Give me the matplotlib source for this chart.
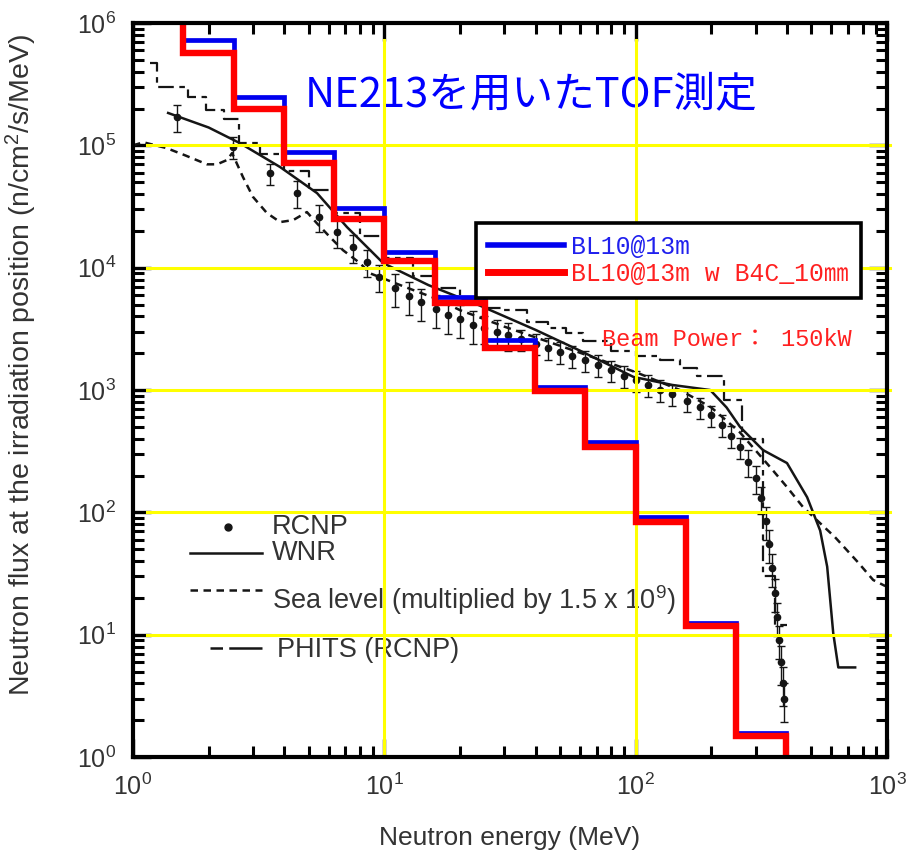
import numpy as np
import matplotlib
matplotlib.use("Agg")
import matplotlib.pyplot as plt
from matplotlib.lines import Line2D
from matplotlib.ticker import LogLocator, NullFormatter

plt.rcParams['font.family'] = ['Liberation Sans', 'Noto Sans CJK JP', 'DejaVu Sans']
plt.rcParams['mathtext.fontset'] = 'custom'
plt.rcParams['mathtext.rm'] = 'Liberation Sans'
plt.rcParams['mathtext.it'] = 'Liberation Sans:italic'

# ---- histogram (NE213 TOF) ----
bin_edges = [1.585, 2.512, 3.981, 6.310, 10.0, 15.85, 25.12, 39.81, 63.10, 100.0, 158.5, 251.2, 398.1]
bl10 = [7.2e5, 2.5e5, 8.8e4, 3.1e4, 1.34e4, 5.75e3, 2.56e3, 1.06e3, 375, 91, 12.4, 1.57]
bl10_b4c = [5.7e5, 2.0e5, 7.2e4, 2.5e4, 1.13e4, 5.1e3, 2.2e3, 980, 341, 83, 11.7, 1.48]

# ---- background figure curves ----
rcnp_e = [1.5, 2.5, 3.5, 4.5, 5.5, 6.5, 7.5, 8.5, 9.5, 11, 12.5, 14, 16, 18, 20, 22.5, 25, 28, 31, 35,
          40, 45, 50, 56, 63, 71, 80, 90, 100, 112, 125, 140, 160, 180, 200, 220, 240, 260, 280, 300,
          315, 330, 340, 350, 358, 365, 372, 378, 384, 390]
rcnp_f = [1.7e5, 9.7e4, 5.9e4, 4.1e4, 2.6e4, 1.95e4, 1.47e4, 1.11e4, 8.4e3, 6.8e3, 5.9e3, 5.2e3, 4.6e3,
          4.1e3, 3.8e3, 3.4e3, 3.2e3, 3.0e3, 2.8e3, 2.6e3, 2.4e3, 2.2e3, 2.05e3, 1.9e3, 1.75e3, 1.6e3,
          1.45e3, 1.3e3, 1.2e3, 1.1e3, 1.0e3, 920, 820, 720, 620, 520, 420, 340, 260, 190,
          130, 85, 55, 35, 22, 14, 9, 6, 4, 3]
rcnp_err = [0.25, 0.2, 0.2, 0.25, 0.25, 0.25, 0.25, 0.25, 0.25, 0.3, 0.3, 0.3, 0.3, 0.3, 0.3, 0.3, 0.25,
            0.25, 0.25, 0.2, 0.2, 0.2, 0.2, 0.2, 0.2, 0.2, 0.2, 0.2, 0.2, 0.2, 0.2, 0.2, 0.2, 0.2, 0.2,
            0.2, 0.2, 0.2, 0.25, 0.25, 0.25, 0.3, 0.3, 0.3, 0.3, 0.3, 0.3, 0.35, 0.35, 0.35]

wnr_e = [1.38, 2.0, 2.67, 3.85, 5.4, 7.1, 9.9, 15, 24, 40, 60, 98, 140, 198, 230, 260, 321, 400, 481,
         542, 578, 611, 640, 747]
wnr_f = [1.84e5, 1.4e5, 1.04e5, 6.65e4, 4.07e4, 2.15e4, 1.09e4, 7.2e3, 4.9e3, 3.1e3, 2.1e3, 1.28e3,
         1.1e3, 1.0e3, 720, 500, 323, 253, 133, 71, 36, 10.3, 5.4, 5.4]

sea_e = [1.0, 1.10, 1.36, 1.61, 1.97, 2.16, 2.37, 2.48, 2.74, 3.0, 3.41, 3.85, 4.34, 4.92, 5.4, 6.08,
         6.85, 8.0, 8.77, 12, 16, 20, 30, 50, 100, 150, 200, 260, 343, 400, 464, 621, 767, 881, 984]
sea_f = [1.0e5, 1.06e5, 9.5e4, 8.3e4, 7.0e4, 7.0e4, 7.6e4, 8.65e4, 5.5e4, 3.8e4, 2.8e4, 2.36e4, 2.45e4,
         2.85e4, 2.3e4, 1.78e4, 1.39e4, 1.09e4, 9.0e3, 7.0e3, 5.6e3, 4.5e3, 3.3e3, 2.3e3, 1.4e3, 1.0e3,
         720, 450, 234, 161, 110, 62.7, 39, 28, 25]

phits_edges = [1.17, 1.25, 1.65, 1.95, 2.3, 2.65, 3.2, 4.0, 5.0, 6.3, 8.0, 10, 13, 16, 20, 25, 30, 37,
               45, 53, 62, 80, 100, 125, 150, 175, 225, 265, 320, 360, 400]
phits_f = [4.7e5, 3.0e5, 2.5e5, 1.95e5, 1.64e5, 1.04e5, 8.5e4, 6.2e4, 4.3e4, 2.8e4, 1.8e4, 1.2e4,
           8.5e3, 6.8e3, 5.5e3, 4.7e3, 4.5e3, 3.6e3, 3.2e3, 2.9e3, 2.5e3, 2.1e3, 1.9e3, 1.75e3, 1.5e3,
           1.3e3, 830, 400, 30, 12]

grid_x = [10, 100]
grid_y = [1e1, 1e2, 1e3, 1e4, 1e5]

fig = plt.figure(figsize=(9.12, 8.63), dpi=100)
ax = fig.add_axes([0.1458, 0.1228, 0.8268, 0.8505])
ax.set_xscale('log')
ax.set_yscale('log')
ax.set_xlim(1, 1000)
ax.set_ylim(1, 1e6)

ink = '#151515'
sea_ls = (0, (3, 2.2))
phits_ls = (0, (7, 2.5, 2.5, 2.5))
# background curves
err = np.array(rcnp_f) * np.array(rcnp_err)
ax.errorbar(rcnp_e, rcnp_f, yerr=err, fmt='o', color=ink, ms=4.5, elinewidth=1.0,
            capsize=3, capthick=1.0, zorder=2)
ax.plot(wnr_e, wnr_f, color=ink, lw=1.8, zorder=2)
ax.plot(sea_e, sea_f, color=ink, lw=1.8, ls=sea_ls, zorder=2)
ax.step(phits_edges, phits_f + [phits_f[-1]], where='post', color=ink, lw=1.6, ls=phits_ls, zorder=2)

# yellow grid
for gx in grid_x:
    ax.axvline(gx, ymin=0, ymax=0.977, color='#ffff00', lw=2.2, zorder=3)
for gy in grid_y:
    ax.axhline(gy, xmin=0.018, xmax=1.004, color='#ffff00', lw=2.2, zorder=3, clip_on=False)


def hist_line(edges, vals, color, lw, z):
    xs = [edges[0]] + list(edges)
    ys = [1e7] + list(vals) + [0.1]
    ax.step(xs, ys, where='post', color=color, lw=lw, zorder=z, solid_joinstyle='miter')


hist_line(bin_edges, bl10, '#0000ee', 3.4, 5)
hist_line(bin_edges, bl10_b4c, '#ff0000', 4.6, 6)

# axes styling
for s in ax.spines.values():
    s.set_linewidth(3)
    s.set_zorder(7)
ax.xaxis.set_major_locator(LogLocator(base=10, numticks=10))
ax.yaxis.set_major_locator(LogLocator(base=10, numticks=10))
ax.xaxis.set_minor_locator(LogLocator(base=10, subs=np.arange(2, 10), numticks=20))
ax.yaxis.set_minor_locator(LogLocator(base=10, subs=np.arange(2, 10), numticks=20))
ax.xaxis.set_minor_formatter(NullFormatter())
ax.yaxis.set_minor_formatter(NullFormatter())
ax.tick_params(which='major', direction='in', length=13, width=2.4, top=True, right=True,
               labelsize=18, labelcolor='#333333', pad=12)
ax.tick_params(which='minor', direction='in', length=8, width=2.2, top=True, right=True)

ax.set_xlabel('Neutron energy (MeV)', fontsize=19, color='#333333')
ax.xaxis.set_label_coords(0.5, -0.094)
ax.set_ylabel('Neutron flux at the irradiation position (n/cm$^2$/s/MeV)', fontsize=20.5,
              color='#333333')
ax.yaxis.set_label_coords(-0.125, 0.534)

# title inside plot
ax.text(0.528, 0.902, 'NE213を用いたTOF測定', transform=ax.transAxes, ha='center', va='center',
        fontsize=30, color='#0000ff', family=['Noto Sans CJK JP'], zorder=2.5)
ax.text(0.622, 0.5695, 'Beam Power： 150kW', transform=ax.transAxes, ha='left', va='center',
        fontsize=17, color='#ff2020', family=['Liberation Mono', 'Noto Sans CJK JP'], zorder=8)

# legend of the original (scanned) figure, entries placed one by one
key_color = '#333333'
key_rows = [
    # (label, line y, text y, line x0, line x1, text x, style)
    ('RCNP', 0.3134, 0.3134, 0.126, 0.126, 0.1844, 'dot'),
    ('WNR', 0.2779, 0.2779, 0.0756, 0.1711, 0.1844, '-'),
    ('Sea level (multiplied by 1.5 x 10$^9$)', 0.2275, 0.2139, 0.0756, 0.1711, 0.1844, sea_ls),
    ('PHITS (RCNP)', 0.1485, 0.1458, 0.102, 0.1711, 0.191, (0, (5, 2.5, 14, 0))),
]
for label, ly, ty, x0, x1, tx, style in key_rows:
    if style == 'dot':
        ax.plot([x0], [ly], 'o', color=ink, ms=5, transform=ax.transAxes, zorder=2.5)
    else:
        ax.plot([x0, x1], [ly, ly], color=ink, lw=1.8, ls=style, transform=ax.transAxes, zorder=2.5)
    ax.text(tx, ty, label, transform=ax.transAxes, ha='left', va='center', fontsize=19.5,
            color=key_color, zorder=2.5)

# legend of the histograms
new_handles = [Line2D([], [], color='#0000ee', lw=4), Line2D([], [], color='#ff0000', lw=5)]
new_labels = ['BL10@13m', 'BL10@13m w B4C_10㎜']
leg1 = ax.legend(new_handles, new_labels, loc='upper left', bbox_to_anchor=(0.455, 0.728),
                 frameon=True, fancybox=False, edgecolor='black', framealpha=1,
                 prop={'family': ['Liberation Mono', 'Noto Sans CJK JP'], 'size': 17.8},
                 handlelength=3.05, handletextpad=0.3, labelspacing=0.12, borderpad=0.5,
                 borderaxespad=0)
leg1.get_frame().set_linewidth(2.6)
for t, c in zip(leg1.get_texts(), ['#2020ee', '#ff2020']):
    t.set_color(c)
leg1.set_zorder(9)

fig.savefig('out.png', dpi=100)
